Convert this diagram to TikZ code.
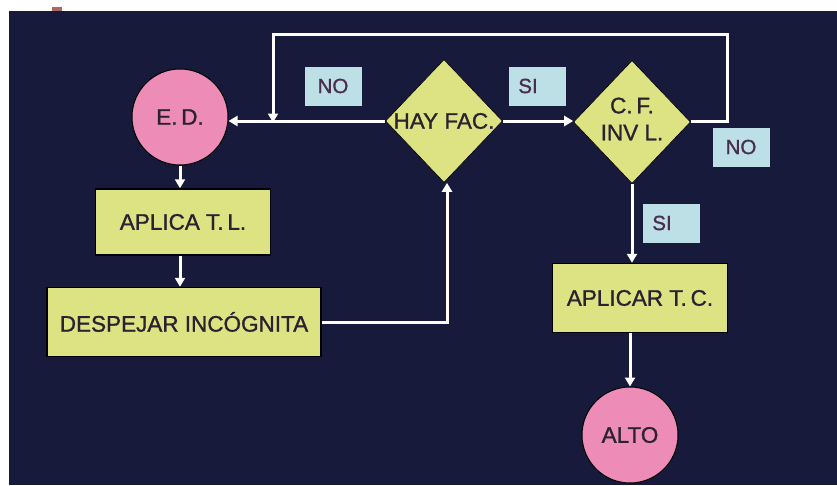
\documentclass[tikz,border=0pt]{standalone}
\usepackage{fontspec}
\setmainfont{Liberation Sans}
\newfontfamily\heavysans[FakeBold=1.2]{Liberation Sans}
\usetikzlibrary{shapes.geometric,arrows.meta}

\definecolor{navy}{HTML}{171A3B}
\definecolor{boxfill}{HTML}{DDE383}
\definecolor{pinkfill}{HTML}{EE8CB8}
\definecolor{tagfill}{HTML}{BDE0E6}
\definecolor{ink}{HTML}{2A2230}
\definecolor{tagink}{HTML}{4A2E4E}

\tikzset{
  bigtext/.style={text=ink, font=\heavysans\fontsize{22.5}{27}\selectfont},
  procbox/.style={rectangle, draw=black, line width=1.5pt, fill=boxfill,
    inner sep=0pt, bigtext},
  termnode/.style={circle, draw=black, line width=1pt, fill=pinkfill,
    inner sep=0pt, minimum size=96pt, bigtext},
  decision/.style={diamond, draw=black, line width=0.6pt, fill=boxfill,
    inner sep=0pt, minimum width=117pt, minimum height=123pt},
  dectext/.style={bigtext, align=center},
  tag/.style={rectangle, fill=tagfill, inner sep=0pt, minimum width=57pt,
    minimum height=39pt, text=tagink, font=\heavysans\fontsize{20.5}{24}\selectfont},
  flow/.style={draw=white, line width=3pt,
    -{Triangle[length=9pt,width=10pt]}}
}

\begin{document}
\begin{tikzpicture}[x=1pt, y=-1pt]
  % page and dark panel
  \useasboundingbox (0,0) rectangle (837,485);
  \fill[white] (0,0) rectangle (837,485);
  \fill[navy] (9,11) rectangle (837,485);
  \fill[red!45!black, opacity=0.6] (52,7) rectangle (62,11);

  % process blocks
  \node[termnode] (ed) at (180,117) {E.\,D.};
  \node[procbox, minimum width=175pt, minimum height=66pt] (aplica) at (183,222) {APLICA T.\,L.};
  \node[procbox, minimum width=274pt, minimum height=69pt] (despejar) at (184,322) {DESPEJAR INCÓGNITA};
  \node[decision] (hay) at (444,121) {};
  \node[dectext] at (hay.center) {HAY FAC.};
  \node[decision] (cf) at (632,122) {};
  \node[dectext] at ([yshift=3pt]cf.center) {C.\,F.\\[0pt]INV L.};
  \node[procbox, minimum width=175pt, minimum height=69pt] (aplicar) at (640,298) {APLICAR T.\,C.};
  \node[termnode] (alto) at (630,435) {ALTO};

  % branch tags
  \node[tag] (no1) at (333,86) {NO};
  \node[tag] (si1) at (537,86) {\hspace*{-18pt}SI};
  \node[tag] (no2) at (741,147) {NO};
  \node[tag] (si2) at (671,223) {\hspace*{-18pt}SI};

  % loop corners
  \coordinate (loopR) at (727,34);
  \coordinate (loopL) at (273,34);

  % connectors
  \draw[flow] (ed.south) -- (ed.south |- aplica.north);
  \draw[flow] (ed.south |- aplica.south) -- (ed.south |- despejar.north);
  \draw[flow] (despejar.east) -| ([xshift=3pt]hay.south);
  \draw[flow] (hay.west) -- (hay.west -| ed.east);
  \draw[flow] (hay.east) -- (hay.east -| cf.west);
  \draw[flow] (cf.east |- hay.east) -| (loopR) -- (loopL) -- ([yshift=-1.5pt]loopL |- hay.west);
  \draw[flow] (cf.south) -- (cf.south |- aplicar.north);
  \draw[flow] (alto.north |- aplicar.south) -- (alto.north);
\end{tikzpicture}
\end{document}
